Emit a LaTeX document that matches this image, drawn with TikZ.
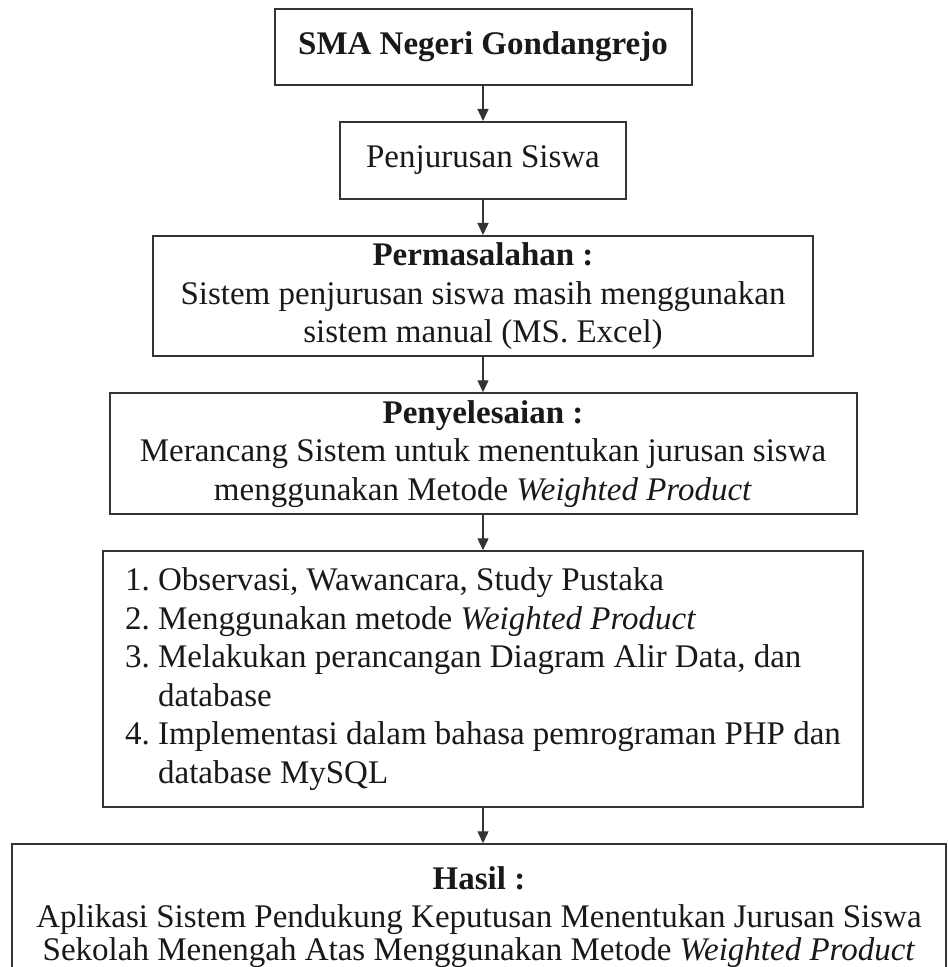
\documentclass[tikz,border=0pt]{standalone}
\usepackage{fontspec}
\setmainfont{Liberation Serif}
\usepackage{xcolor}
\usetikzlibrary{arrows.meta,positioning}

\begin{document}
\frenchspacing
\begin{tikzpicture}[
    node distance=17.5pt,
    box/.style={draw=black!80, line width=1pt, align=center, inner xsep=8pt, text=black!90,
      font=\fontsize{16.5}{19.25}\selectfont},
    arrow/.style={-{Triangle[length=6pt, width=5.5pt]}, line width=0.7pt, draw=black!80}
  ]
    \useasboundingbox (0,0) rectangle (473.5pt,-483.5pt);
    \clip (0,0) rectangle (473.5pt,-483.5pt);
    \node[box, anchor=north, minimum width=208.5pt, minimum height=38pt] (sekolah) at (241.5pt,-4pt) {\textbf{SMA Negeri Gondangrejo}};
    \node[box, below=of sekolah, minimum width=143pt, minimum height=38.5pt] (jurusan) {Penjurusan Siswa};
    \node[box, below=of jurusan, minimum width=330pt, minimum height=60pt] (masalah) {\textbf{Permasalahan :}\\Sistem penjurusan siswa masih menggunakan\\sistem manual (MS. Excel)};
    \node[box, below=of masalah, minimum width=373.5pt, minimum height=60.5pt] (solusi) {\textbf{Penyelesaian :}\\Merancang Sistem untuk menentukan jurusan siswa\\menggunakan Metode \textit{Weighted Product}};
    \node[box, below=of solusi, align=left, minimum width=380pt, minimum height=128pt] (metode) {1. Observasi, Wawancara, Study Pustaka\\
      2. Menggunakan metode \textit{Weighted Product}\\
      3. Melakukan perancangan Diagram Alir Data, dan\\
      \phantom{3. }database\\
      4. Implementasi dalam bahasa pemrograman PHP dan\\
      \phantom{4. }database MySQL};
    \node[box, below=of metode, xshift=-2pt, minimum width=467pt, inner ysep=11pt] (hasil) {\textbf{Hasil :}\\Aplikasi Sistem Pendukung Keputusan Menentukan Jurusan Siswa\\[-3pt]Sekolah Menengah Atas Menggunakan Metode \textit{Weighted Product}};
    \draw[arrow] (sekolah) -- (jurusan);
    \draw[arrow] (jurusan) -- (masalah);
    \draw[arrow] (masalah) -- (solusi);
    \draw[arrow] (solusi) -- (metode);
    \draw[arrow] (metode.south) -- (metode.south |- hasil.north);
  \end{tikzpicture}
\end{document}
